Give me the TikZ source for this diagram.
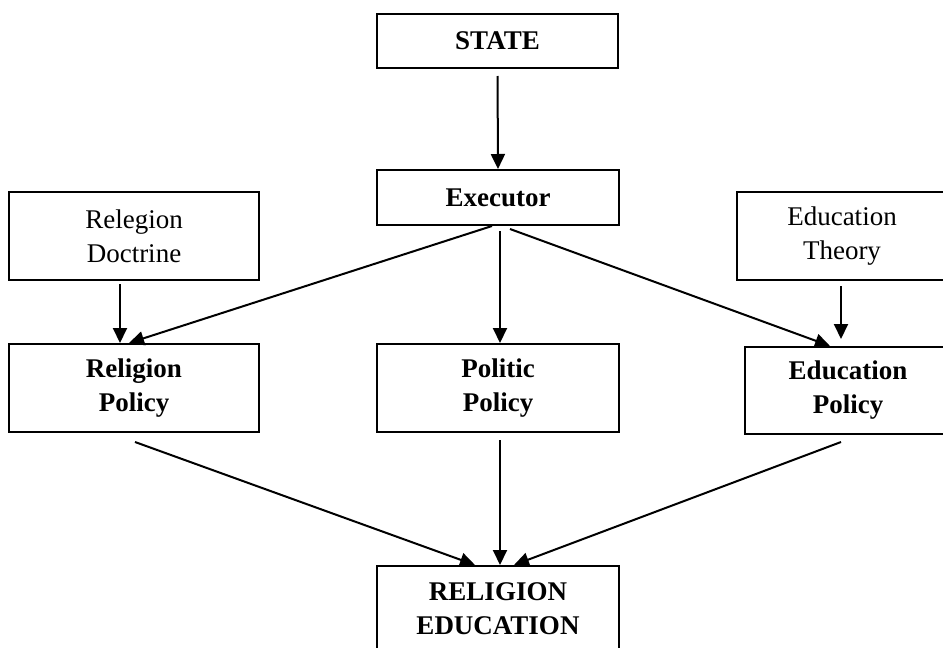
\documentclass[tikz,border=0pt]{standalone}
\usepackage{fontspec}
\setmainfont{Liberation Serif}
\usetikzlibrary{arrows.meta, positioning}

\begin{document}
\begin{tikzpicture}[
    x=0.5pt, y=-0.5pt,
    nd/.style={draw, line width=1pt, align=center, inner sep=2pt, font=\fontsize{13.5}{17}\selectfont},
    unit/.style={nd, font=\fontsize{13.5}{17}\selectfont\bfseries},
    src/.style={nd},
    arr/.style={-{Triangle[length=7.5pt, width=7pt]}, line width=1pt},
]
\useasboundingbox (0,0) rectangle (943,648);
\clip (0,0) rectangle (943,648);

\node[unit, minimum width=120.5pt, minimum height=27pt] (State) at (497.5, 41) {STATE};
\node[unit, minimum width=121pt, minimum height=27.5pt] (Exec) at (498, 197.5) {Executor};

\node[src, minimum width=125pt, minimum height=44pt] (Doctrine) at (134, 236) {Relegion\\Doctrine};
\node[src, minimum width=105pt, minimum height=44pt] (Theory) at (842, 236) {Education\\Theory};

\node[unit, minimum width=125pt, minimum height=44pt] (RelPol) at (134, 388) {Religion\\Policy};
\node[unit, minimum width=121pt, minimum height=44pt] (PolPol) at (498, 388) {Politic\\Policy};
\node[unit, minimum width=103pt, minimum height=43.5pt] (EduPol) at (848, 390.5) {Education\\Policy};

\node[unit, minimum width=121pt, minimum height=43pt] (RelEdu) at (498, 609) {RELIGION\\EDUCATION};

% state to executor
\draw[arr, shorten <=3.5pt] (State.south) -- (Exec.north);

% executor to the three policies
\draw[arr] ([xshift=-3pt]Exec.south) -- ([xshift=-2.5pt]RelPol.north);
\draw[arr, shorten <=2.5pt] ([xshift=1pt]Exec.south) -- ([xshift=1pt]PolPol.north);
\draw[arr] ([xshift=6pt, yshift=-1.5pt]Exec.south) -- ([xshift=-9pt]EduPol.north);

% sources
\draw[arr, shorten <=1.5pt] ([xshift=-7pt]Doctrine.south) -- ([xshift=-7pt]RelPol.north);
\draw[arr, shorten <=2.5pt, shorten >=3.5pt] ([xshift=-0.5pt]Theory.south) -- ([xshift=-3.5pt]EduPol.north);

% policies to religion education
\draw[arr] ([xshift=0.5pt, yshift=-4.5pt]RelPol.south) -- ([xshift=-11.5pt]RelEdu.north);
\draw[arr, shorten <=3.5pt] ([xshift=1pt]PolPol.south) -- ([xshift=1pt]RelEdu.north);
\draw[arr] ([xshift=-3.5pt, yshift=-3.5pt]EduPol.south) -- ([xshift=8pt]RelEdu.north);

\end{tikzpicture}
\end{document}
